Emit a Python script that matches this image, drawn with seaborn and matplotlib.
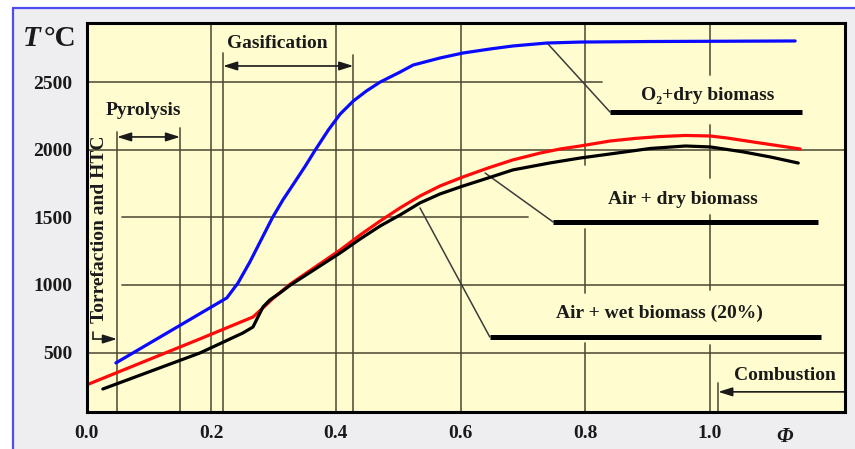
import numpy as np
import pandas as pd
import matplotlib
matplotlib.use("Agg")
import matplotlib.pyplot as plt
import seaborn as sns
from matplotlib.patches import Rectangle
from matplotlib.lines import Line2D

# Adiabatic flame temperature (°C) versus equivalence ratio Φ
phi_o2 = [0.047, 0.225, 0.243, 0.262, 0.280, 0.298, 0.315, 0.333, 0.351, 0.367,
          0.388, 0.407, 0.428, 0.449, 0.471, 0.503, 0.524, 0.567, 0.604, 0.648,
          0.684, 0.739, 0.792, 0.904, 1.137]
t_o2 = [423, 904, 1015, 1170, 1333, 1496, 1629, 1754, 1880, 1999,
        2147, 2265, 2361, 2435, 2501, 2575, 2627, 2679, 2716, 2746,
        2768, 2790, 2797, 2801, 2805]

phi_air_dry = [0.004, 0.182, 0.267, 0.283, 0.298, 0.327, 0.367, 0.407, 0.439,
               0.471, 0.503, 0.535, 0.567, 0.604, 0.644, 0.684, 0.728, 0.760,
               0.792, 0.840, 0.880, 0.920, 0.961, 1.001, 1.028, 1.081, 1.145]
t_air_dry = [268, 601, 763, 830, 896, 1007, 1133, 1259, 1370,
             1473, 1570, 1658, 1732, 1799, 1865, 1925, 1976, 2006,
             2028, 2065, 2084, 2098, 2106, 2102, 2087, 2050, 2006]

phi_air_wet = [0.026, 0.182, 0.251, 0.267, 0.275, 0.283, 0.294, 0.310, 0.327,
               0.367, 0.407, 0.439, 0.471, 0.503, 0.535, 0.567, 0.604, 0.644,
               0.684, 0.744, 0.792, 0.840, 0.905, 0.961, 1.001, 1.054, 1.097, 1.142]
t_air_wet = [230, 497, 645, 689, 763, 837, 889, 940, 999,
             1118, 1237, 1340, 1436, 1518, 1607, 1673, 1732, 1791,
             1851, 1903, 1939, 1969, 2010, 2028, 2021, 1984, 1947, 1902]

x_ticks = [0.0, 0.2, 0.4, 0.6, 0.8, 1.0]
x_tick_labels = ["0.0", "0.2", "0.4", "0.6", "0.8", "1.0"]
y_ticks = [500, 1000, 1500, 2000, 2500]
y_tick_labels = ["500", "1000", "1500", "2000", "2500"]

mixtures = ["O\u2082+dry biomass", "Air + dry biomass", "Air + wet biomass (20%)"]
colors = {mixtures[0]: "#0a0aff", mixtures[1]: "#ff0a0a", mixtures[2]: "#000000"}

df = pd.concat([
    pd.DataFrame({"phi": phi_o2, "T": t_o2, "mixture": mixtures[0]}),
    pd.DataFrame({"phi": phi_air_dry, "T": t_air_dry, "mixture": mixtures[1]}),
    pd.DataFrame({"phi": phi_air_wet, "T": t_air_wet, "mixture": mixtures[2]}),
], ignore_index=True)

sns.set_theme(style="white")
plt.rcParams["font.family"] = ["Liberation Serif", "DejaVu Serif"]
plt.rcParams["font.weight"] = "bold"

W, H = 855, 449
fig = plt.figure(figsize=(W / 100, H / 100), dpi=100)
fig.patch.set_facecolor("white")

# panel background with a blue frame on the left and top
fig.add_artist(Rectangle((13 / W, 0), 1, 1 - 8 / H, transform=fig.transFigure,
                         facecolor="#eeeef0", edgecolor="none", zorder=0))
fig.add_artist(Line2D([13 / W, 13 / W], [0, 1 - 8 / H], transform=fig.transFigure,
                      color="#4d4df2", lw=1.6))
fig.add_artist(Line2D([13 / W, 1], [1 - 8 / H, 1 - 8 / H], transform=fig.transFigure,
                      color="#4d4df2", lw=1.6))

ax = fig.add_axes([86.6 / W, 1 - 412 / H, (845 - 86.6) / W, (412 - 23) / H])
ax.set_facecolor("#fffdcf")
XMIN, XMAX, YMIN, YMAX = 0.0, 1.217, 60, 2938
ax.set_xlim(XMIN, XMAX)
ax.set_ylim(YMIN, YMAX)

grid_kw = dict(color="#4a4733", lw=1.3, alpha=0.85, zorder=1)
# horizontal guide lines
ax.plot([XMIN, 0.827], [2500, 2500], **grid_kw)
ax.plot([XMIN, XMAX], [2000, 2000], **grid_kw)
ax.plot([0.057, 0.708], [1500, 1500], **grid_kw)
ax.plot([0.057, XMAX], [1000, 1000], **grid_kw)
ax.plot([XMIN, XMAX], [500, 500], **grid_kw)
# vertical guide lines
for xv in (0.2, 0.4, 0.6):
    ax.plot([xv, xv], [YMIN, YMAX], **grid_kw)
for y0, y1 in ((1888, YMAX), (941, 1414), (YMIN, 571)):
    ax.plot([0.8, 0.8], [y0, y1], **grid_kw)
for y0, y1 in ((2553, YMAX), (1791, 2183), (963, 1518), (YMIN, 556)):
    ax.plot([1.0, 1.0], [y0, y1], **grid_kw)
# process boundaries
for xv, ytop in ((0.0488, 2131), (0.150, 2161), (0.219, 2716), (0.428, 2702), (1.0135, 275)):
    ax.plot([xv, xv], [YMIN, ytop], **grid_kw)

sns.lineplot(data=df, x="phi", y="T", hue="mixture", palette=colors, sort=False,
             estimator=None, lw=2.3, legend=False, ax=ax, zorder=5)
for ln in ax.get_lines()[-3:]:
    ln.set_solid_joinstyle("round")
    ln.set_solid_capstyle("round")

txt_kw = dict(fontsize=14, fontweight="bold", color="#1a1a1a", zorder=6)
arrow_kw = dict(arrowstyle="<|-|>,head_length=0.7,head_width=0.22", color="#1a1a1a", lw=1.2,
                shrinkA=0, shrinkB=0)
one_way = dict(arrowstyle="-|>,head_length=0.7,head_width=0.22", color="#1a1a1a", lw=1.2,
               shrinkA=0, shrinkB=0)

ax.annotate("", xy=(0.150, 2095), xytext=(0.0488, 2095), arrowprops=arrow_kw, zorder=6)
ax.text(0.0905, 2287, "Pyrolysis", ha="center", va="center", **txt_kw)

ax.annotate("", xy=(0.428, 2620), xytext=(0.219, 2620), arrowprops=arrow_kw, zorder=6)
ax.text(0.306, 2783, "Gasification", ha="center", va="center", **txt_kw)

ax.plot([0.0103, 0.0103], [600, 650], color="#1a1a1a", lw=1.2, zorder=6)
ax.annotate("", xy=(0.0488, 600), xytext=(0.0103, 600), arrowprops=one_way, zorder=6)
ax.text(0.0215, 1414, "Torrefaction and HTC", ha="center", va="center", rotation=90, **txt_kw)

ax.annotate("", xy=(1.0135, 209), xytext=(XMAX, 209), arrowprops=one_way, zorder=6)
ax.text(1.121, 327, "Combustion", ha="center", va="center", **txt_kw)

# curve labels with leader lines and underline bars
leader_kw = dict(color="#3c3c3c", lw=1.1, zorder=4)
bar_kw = dict(color="black", lw=3.6, solid_capstyle="butt", zorder=6)

ax.plot([0.739, 0.840], [2790, 2279], **leader_kw)
ax.plot([0.840, 1.148], [2279, 2279], **bar_kw)
ax.text(0.997, 2398, mixtures[0], ha="center", va="center", **txt_kw)

ax.plot([0.6395, 0.7486], [1828, 1466], **leader_kw)
ax.plot([0.7486, 1.174], [1466, 1466], **bar_kw)
ax.text(0.957, 1629, mixtures[1], ha="center", va="center", **txt_kw)

ax.plot([0.535, 0.647], [1570, 615], **leader_kw)
ax.plot([0.647, 1.179], [615, 615], **bar_kw)
ax.text(0.919, 793, mixtures[2], ha="center", va="center", **txt_kw)

ax.set_xticks(x_ticks)
ax.set_xticklabels(x_tick_labels)
ax.set_yticks(y_ticks)
ax.set_yticklabels(y_tick_labels)
ax.tick_params(axis="both", length=0, labelsize=14, colors="#1a1a1a")
ax.tick_params(axis="y", pad=10)
ax.tick_params(axis="x", pad=9)
for lab in ax.get_xticklabels() + ax.get_yticklabels():
    lab.set_fontweight("bold")
ax.set_xlabel("")
ax.set_ylabel("")
for sp in ax.spines.values():
    sp.set_visible(True)
    sp.set_color("black")
    sp.set_linewidth(2.2)
    sp.set_zorder(10)

# axis titles
fig.text(23 / W, 1 - 38 / H, "T", fontsize=21, fontweight="bold", fontstyle="italic",
         ha="left", va="center", color="#1a1a1a")
fig.text(44 / W, 1 - 38 / H, "\u00b0C", fontsize=21, fontweight="bold",
         ha="left", va="center", color="#1a1a1a")
fig.text(785 / W, 1 - 437 / H, "\u03a6", fontsize=15, fontweight="bold", fontstyle="italic",
         ha="center", va="center", color="#1a1a1a")

fig.savefig("out.png", dpi=100)
